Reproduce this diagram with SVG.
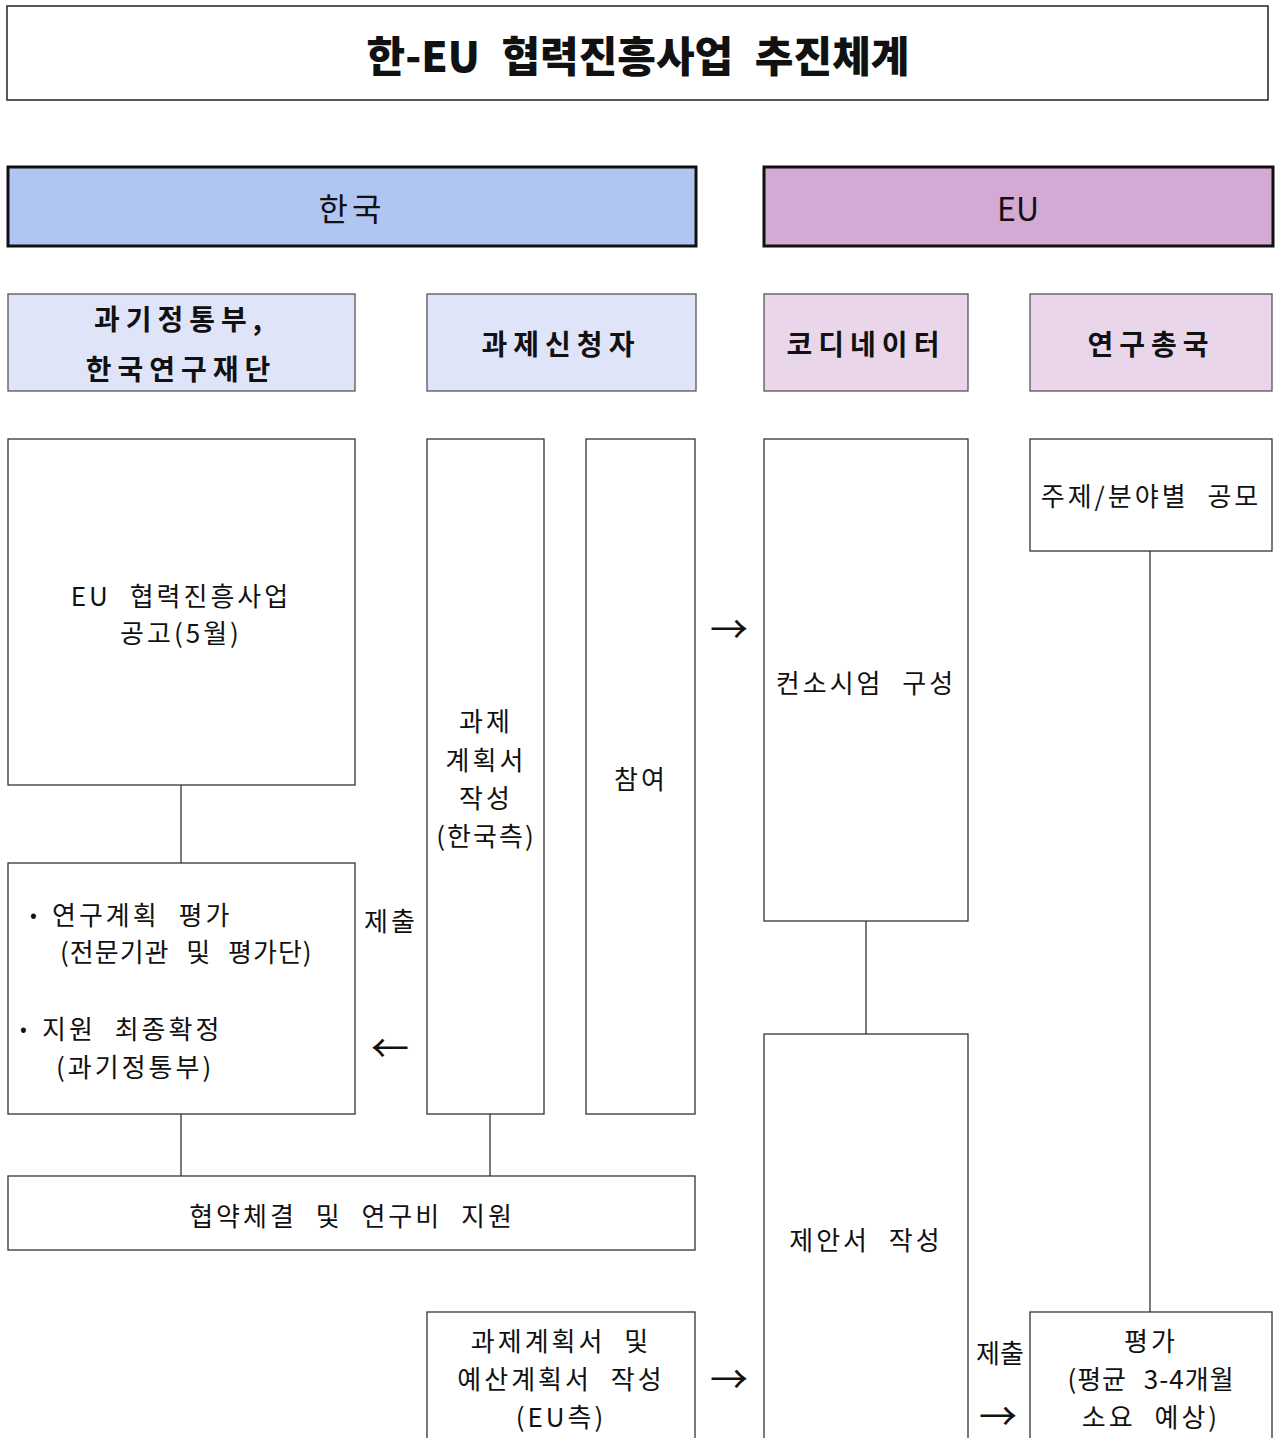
<svg xmlns="http://www.w3.org/2000/svg" width="1276" height="1438" viewBox="0 0 1276 1438">
<style>
text{font-family:"Noto Sans CJK KR","Noto Sans",sans-serif;fill:#111;text-anchor:middle;dominant-baseline:central}
.b{fill:#fff;stroke:#333;stroke-width:1.3}
.t{font-size:26px;letter-spacing:3px;word-spacing:10px}
.s{text-anchor:start}
.h{font-size:28px;font-weight:bold;letter-spacing:6px}
.ar{font-size:38px}
.ln{stroke:#333;stroke-width:1.3;fill:none}
</style>
<rect width="1276" height="1438" fill="#fff"/>
<g id="title"><rect x="7" y="6" width="1261" height="94" fill="#fff" stroke="#222" stroke-width="1.5"/><text x="638" y="53" style="font-size:42px;font-weight:900;word-spacing:12px">한-EU 협력진흥사업 추진체계</text></g>
<g id="korea"><rect x="8" y="167" width="688" height="79" fill="#b1c5f3" stroke="#111" stroke-width="3"/><text x="352" y="207" style="font-size:32px;letter-spacing:4px">한국</text></g>
<g id="eu"><rect x="764" y="167" width="509" height="79" fill="#d4a9d4" stroke="#111" stroke-width="3"/><text x="1018" y="207" style="font-size:32px">EU</text></g>
<g id="msit"><rect x="8" y="294" width="347" height="97" fill="#dfe4f8" stroke="#555" stroke-width="1.3"/><text class="h" x="181" y="318">과기정통부,</text><text class="h" x="181" y="368">한국연구재단</text></g>
<g id="applicant"><rect x="427" y="294" width="269" height="97" fill="#dfe4f8" stroke="#555" stroke-width="1.3"/><text class="h" x="561" y="343">과제신청자</text></g>
<g id="coordinator"><rect x="764" y="294" width="204" height="97" fill="#ead6eb" stroke="#555" stroke-width="1.3"/><text class="h" x="866" y="343">코디네이터</text></g>
<g id="dg"><rect x="1030" y="294" width="242" height="97" fill="#ead6eb" stroke="#555" stroke-width="1.3"/><text class="h" x="1151" y="343">연구총국</text></g>
<g id="notice"><rect class="b" x="8" y="439" width="347" height="346"/><text class="t" x="181" y="594">EU 협력진흥사업</text><text class="t" x="181" y="631">공고(5월)</text></g>
<g id="eval"><rect class="b" x="8" y="863" width="347" height="251"/>
<text class="t s" x="30" y="913" style="font-size:20px">•</text><text class="t s" x="52" y="913">연구계획 평가</text>
<text class="t s" x="60" y="950" style="letter-spacing:1px">(전문기관 및 평가단)</text>
<text class="t s" x="20" y="1027" style="font-size:20px">•</text><text class="t s" x="42" y="1027">지원 최종확정</text>
<text class="t s" x="56" y="1065">(과기정통부)</text></g>
<g id="plan-kr"><rect class="b" x="427" y="439" width="117" height="675"/><text class="t" x="486" y="719">과제</text><text class="t" x="486" y="758">계획서</text><text class="t" x="486" y="796">작성</text><text class="t" x="486" y="834" style="letter-spacing:2px">(한국측)</text></g>
<g id="join"><rect class="b" x="586" y="439" width="109" height="675"/><text class="t" x="641" y="777">참여</text></g>
<g id="agreement"><rect class="b" x="8" y="1176" width="687" height="74"/><text class="t" x="352" y="1214">협약체결 및 연구비 지원</text></g>
<g id="plan-eu"><rect class="b" x="427" y="1312" width="268" height="140"/><text class="t" x="561" y="1339">과제계획서 및</text><text class="t" x="561" y="1377">예산계획서 작성</text><text class="t" x="561" y="1415">(EU측)</text></g>
<g id="consortium"><rect class="b" x="764" y="439" width="204" height="482"/><text class="t" x="866" y="681">컨소시엄 구성</text></g>
<g id="proposal"><rect class="b" x="764" y="1034" width="204" height="420"/><text class="t" x="866" y="1238">제안서 작성</text></g>
<g id="call"><rect class="b" x="1030" y="439" width="242" height="112"/><text class="t" x="1151" y="494">주제/분야별 공모</text></g>
<g id="evaluation-eu"><rect class="b" x="1030" y="1312" width="242" height="140"/><text class="t" x="1151" y="1339">평가</text><text class="t" x="1151" y="1377" style="letter-spacing:1px">(평균 3-4개월</text><text class="t" x="1151" y="1415">소요 예상)</text></g>
<g id="connectors">
<line class="ln" x1="181" y1="785" x2="181" y2="863"/>
<line class="ln" x1="181" y1="1114" x2="181" y2="1176"/>
<line class="ln" x1="490" y1="1114" x2="490" y2="1176"/>
<line class="ln" x1="866" y1="921" x2="866" y2="1034"/>
<line class="ln" x1="1150" y1="551" x2="1150" y2="1312"/>
<text class="ar" x="729" y="626">→</text>
<text class="ar" x="390" y="1045">←</text>
<text class="ar" x="729" y="1376">→</text>
<text class="ar" x="998" y="1413">→</text>
<text class="t" x="391" y="919">제출</text>
<text class="t" x="1000" y="1351" style="letter-spacing:0">제출</text>
</g>
</svg>
